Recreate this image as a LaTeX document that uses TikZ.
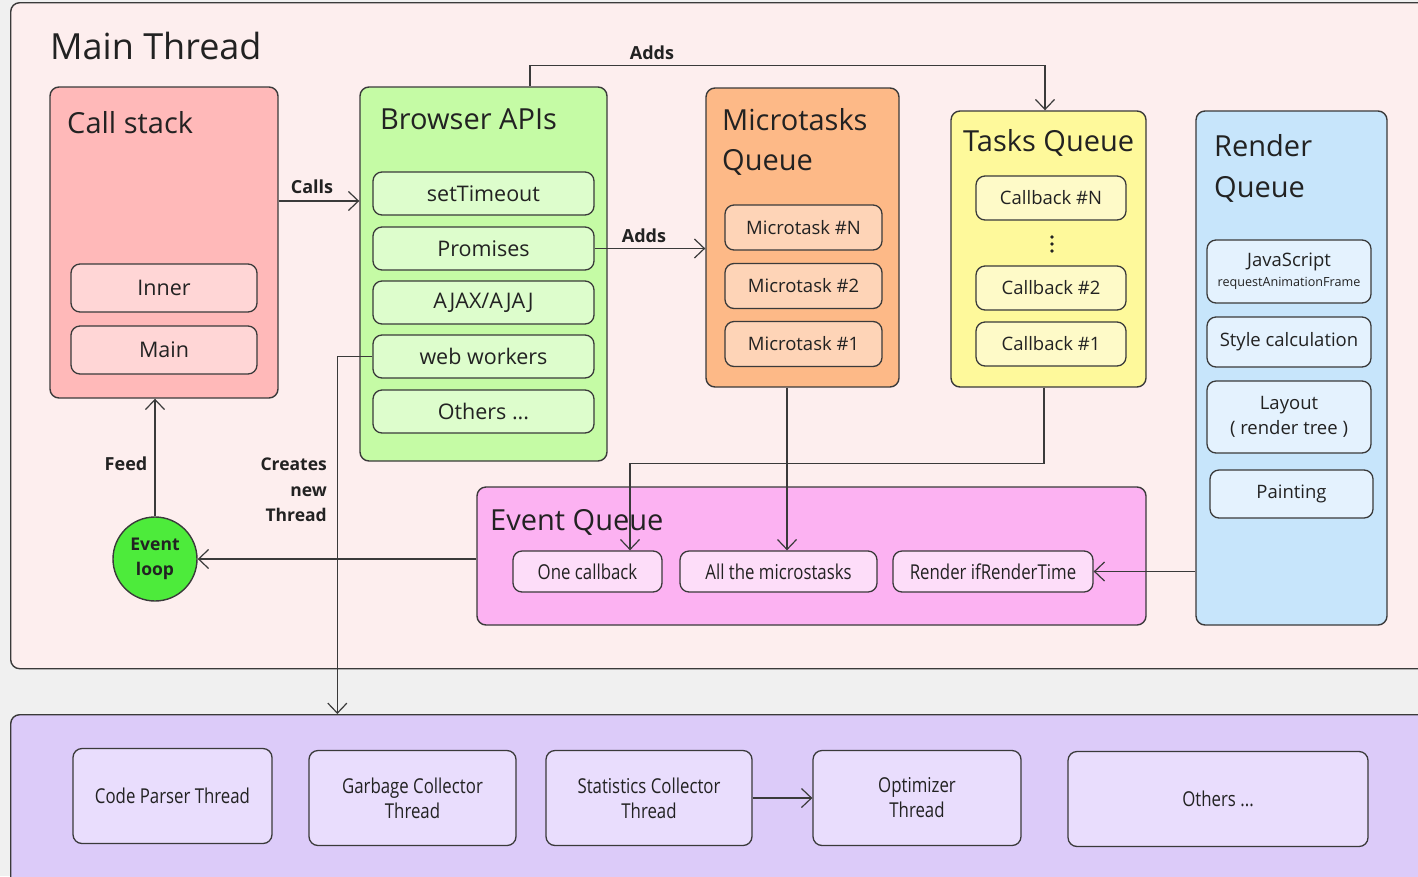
\documentclass[tikz,border=0pt]{standalone}
\usepackage{fontspec}
\setmainfont{Open Sans}
\newfontfamily\narrowfont{Open Sans}[FakeStretch=0.82]
\usetikzlibrary{arrows.meta,calc}

\definecolor{pagebg}{HTML}{F0F0F0}
\definecolor{mainbg}{HTML}{FDEEEE}
\definecolor{stackbg}{HTML}{FFB9B9}
\definecolor{stackit}{HTML}{FFD6D6}
\definecolor{apibg}{HTML}{C5FBA5}
\definecolor{apiit}{HTML}{DDFDCC}
\definecolor{microbg}{HTML}{FDB987}
\definecolor{microit}{HTML}{FED4B7}
\definecolor{taskbg}{HTML}{FEF99B}
\definecolor{taskit}{HTML}{FEFAC8}
\definecolor{renderbg}{HTML}{C7E5FB}
\definecolor{renderit}{HTML}{E4F2FE}
\definecolor{evqbg}{HTML}{FCB2F2}
\definecolor{evqit}{HTML}{FDDDF9}
\definecolor{loopbg}{HTML}{4DEB3B}
\definecolor{threadbg}{HTML}{DCCBF9}
\definecolor{threadit}{HTML}{E9DDFD}
\definecolor{edge}{HTML}{3A3A3A}
\definecolor{ink}{HTML}{222222}

\tikzset{
  panel/.style={draw=edge, line width=1.4pt, rounded corners=9pt, inner sep=0pt},
  item/.style={draw=edge, line width=1.3pt, rounded corners=9pt, inner sep=0pt,
    text=ink, align=center},
  title/.style={text=ink, inner sep=0pt, anchor=base west, font=\fontsize{29}{34}\selectfont},
  lbl/.style={text=ink, inner sep=0pt, font=\bfseries\fontsize{18}{25}\selectfont},
  arr/.style={draw=edge, line width=1.2pt, -{Straight Barb[length=10pt,width=19pt,line width=1.2pt]}},
  apifont/.style={font=\fontsize{21.5}{25}\selectfont},
  qfont/.style={font=\fontsize{18.5}{22}\selectfont},
  nfont/.style={font=\narrowfont\fontsize{20.5}{25}\selectfont},
}

\begin{document}
\begin{tikzpicture}[x=1pt,y=-1pt]
\fill[pagebg] (0,0) rectangle (1418,876);
\useasboundingbox (0,0) rectangle (1418,876);
\clip (0,0) rectangle (1418,876);

% ---- main thread frame ----
\node[panel, fill=mainbg, anchor=north west, minimum width=1430, minimum height=666] (main) at (10,2) {};
\node[text=ink, inner sep=0pt, anchor=base west, font=\fontsize{36}{40}\selectfont] (maint) at (50,59) {Main Thread};

% ---- call stack ----
\node[panel, fill=stackbg, minimum width=228, minimum height=311] (cs) at (164,242.5) {};
\node[title] (cst) at (67,133) {Call stack};
\node[item, fill=stackit, apifont, minimum width=186, minimum height=48] (inner) at (164,288) {Inner};
\node[item, fill=stackit, apifont, minimum width=186, minimum height=48] (mainfn) at (164,350) {Main};

% ---- browser APIs ----
\node[panel, fill=apibg, minimum width=247, minimum height=374] (api) at (483.5,274) {};
\node[title] (apit) at (380,129) {Browser APIs};
\node[item, fill=apiit, apifont, minimum width=221, minimum height=43] (st) at (483.5,193.5) {setTimeout};
\node[item, fill=apiit, apifont, minimum width=221, minimum height=43] (prom) at (483.5,248.5) {Promises};
\node[item, fill=apiit, apifont, minimum width=221, minimum height=43] (ajax) at (483.5,302.5) {AJAX/AJAJ};
\node[item, fill=apiit, apifont, minimum width=221, minimum height=43] (ww) at (483.5,356.5) {web workers};
\node[item, fill=apiit, apifont, minimum width=221, minimum height=43] (apio) at (483.5,411.5) {Others ...};

% ---- microtasks queue ----
\node[panel, fill=microbg, minimum width=193, minimum height=299] (mq) at (802.5,237.5) {};
\node[title] (mqt1) at (722,130) {Microtasks};
\node[title] (mqt2) at (722,170) {Queue};
\node[item, fill=microit, qfont, minimum width=157, minimum height=45] (mtn) at (803.5,227.5) {Microtask \#N};
\node[item, fill=microit, qfont, minimum width=157, minimum height=45] (mt2) at (803.5,286) {Microtask \#2};
\node[item, fill=microit, qfont, minimum width=157, minimum height=45] (mt1) at (803.5,344) {Microtask \#1};

% ---- tasks queue ----
\node[panel, fill=taskbg, minimum width=195, minimum height=276] (tq) at (1048.5,249) {};
\node[title] (tqt) at (963,151) {Tasks Queue};
\node[item, fill=taskit, qfont, minimum width=150, minimum height=44] (cbn) at (1051,198) {Callback \#N};
\node[item, fill=taskit, qfont, minimum width=150, minimum height=44] (cb2) at (1051,288) {Callback \#2};
\node[item, fill=taskit, qfont, minimum width=150, minimum height=44] (cb1) at (1051,344) {Callback \#1};
\foreach \dy in {237,244,251} \fill[ink] (1052,\dy) circle (1.9);

% ---- render queue ----
\node[panel, fill=renderbg, minimum width=191, minimum height=514] (rq) at (1291.5,368) {};
\node[title] (rqt1) at (1214,156) {Render};
\node[title] (rqt2) at (1214,197) {Queue};
\node[item, fill=renderit, minimum width=164, minimum height=63] (js) at (1289,271.5)
  {{\fontsize{18.5}{21}\selectfont JavaScript}\\[5pt]{\fontsize{12.6}{14}\selectfont requestAnimationFrame}};
\node[item, fill=renderit, qfont, minimum width=164, minimum height=50] (style) at (1289,342) {Style calculation};
\node[item, fill=renderit, font=\fontsize{18.5}{25}\selectfont, minimum width=164, minimum height=72] (layout) at (1289,417) {Layout\\( render tree )};
\node[item, fill=renderit, qfont, minimum width=163, minimum height=48] (paint) at (1291.5,494) {Painting};

% ---- event queue ----
\node[panel, fill=evqbg, minimum width=669, minimum height=138] (eq) at (811.5,556) {};
\node[title] (eqt) at (490,530) {Event Queue};
\node[item, fill=evqit, nfont, minimum width=149, minimum height=41] (one) at (587.5,571.5) {One callback};
\node[item, fill=evqit, nfont, minimum width=197, minimum height=41] (allm) at (778.5,571.5) {All the microstasks};
\node[item, fill=evqit, nfont, minimum width=200, minimum height=41] (rit) at (993,571.5) {Render ifRenderTime};

% ---- event loop ----
\node[circle, draw=edge, line width=1.4pt, fill=loopbg, minimum size=84, inner sep=0pt,
  text=ink, align=center, font=\bfseries\fontsize{17.5}{25}\selectfont] (el) at (155,559) {Event\\loop};

% ---- other threads ----
\node[panel, fill=threadbg, anchor=north west, minimum width=1430, minimum height=180] (bot) at (10,714) {};
\node[item, fill=threadit, nfont, minimum width=199, minimum height=95] (cp) at (172.5,796) {Code Parser Thread};
\node[item, fill=threadit, nfont, minimum width=207, minimum height=95] (gc) at (412.5,798) {Garbage Collector\\Thread};
\node[item, fill=threadit, nfont, minimum width=206, minimum height=95] (stat) at (649,798) {Statistics Collector\\Thread};
\node[item, fill=threadit, nfont, minimum width=208, minimum height=95] (opt) at (917,798) {Optimizer\\Thread};
\node[item, fill=threadit, nfont, minimum width=300, minimum height=95] (tho) at (1218,799) {Others ...};

% ---- connectors ----
\coordinate (callsrc) at ([yshift=41.5pt]cs.east);
\draw[arr] (callsrc) -- (callsrc -| api.west);
\node[lbl] at (312,187) {Calls};

\coordinate (addsrc) at ([xshift=46.5pt]api.north);
\coordinate (adddst) at ([xshift=-3.5pt]tq.north);
\draw[arr] (addsrc) -- ++(0,-21) -| (adddst);
\node[lbl] at (652,53) {Adds};

\draw[arr] (prom.east) -- (prom.east -| mq.west);
\node[lbl] at (644,236) {Adds};

\draw[arr] (ww.west) -- ++(-35,0) coordinate (wk) -- (wk |- bot.north);
\node[lbl, align=right, anchor=north east, font=\bfseries\fontsize{17.5}{25.5}\selectfont] at (327,458) {Creates\\new\\Thread};

\draw[arr] (el.north) -- (el.north |- cs.south);
\node[lbl] at (126,464) {Feed};

\draw[arr] (el.east -| eq.west) -- (el.east);

\coordinate (msrc) at ([xshift=-15.5pt]mq.south);
\draw[arr] (msrc) -- (msrc |- allm.north);

\coordinate (tsrc) at ([xshift=-4.5pt]tq.south);
\coordinate (tdst) at ([xshift=42.5pt]one.north);
\draw[arr] (tsrc) -- ++(0,76) -| (tdst);

\draw[arr] (rit.east -| rq.west) -- (rit.east);

\draw[arr] (stat.east) -- (opt.west);
\end{tikzpicture}
\end{document}
